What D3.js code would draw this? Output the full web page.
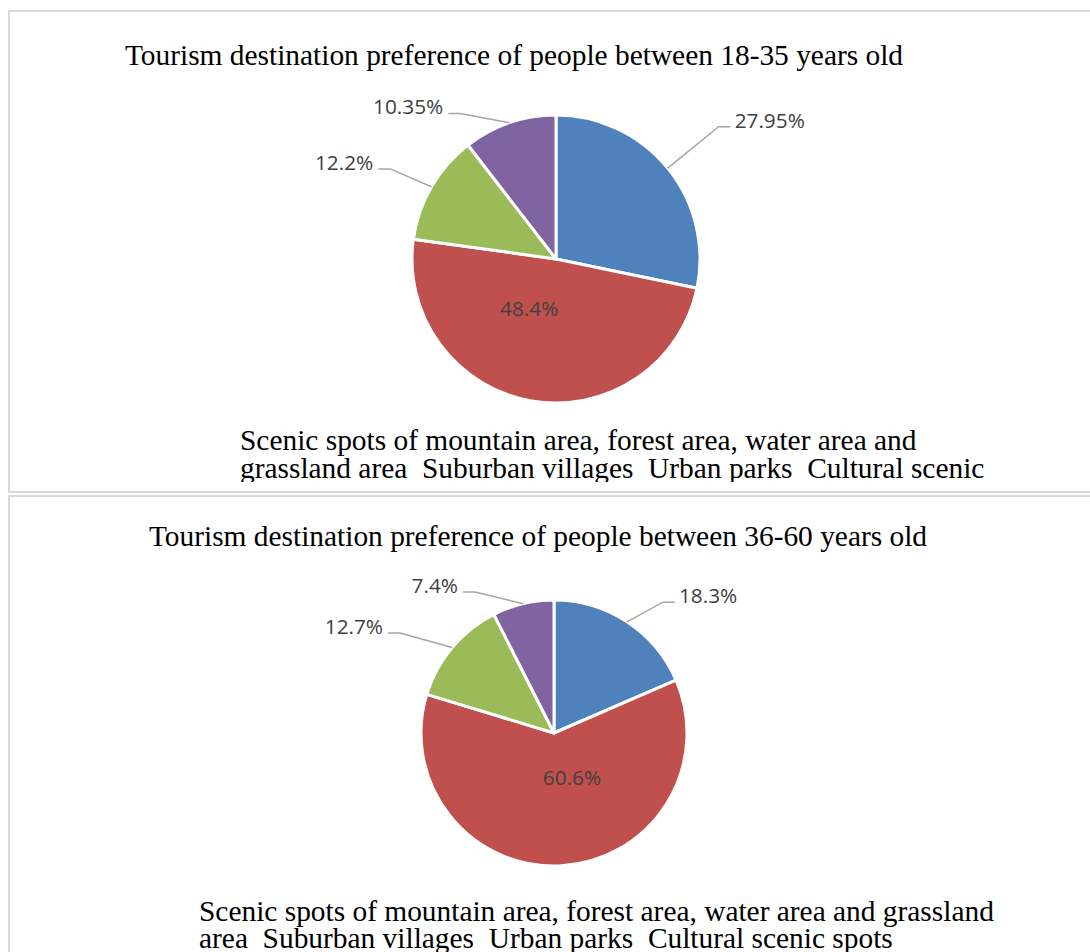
<!DOCTYPE html>
<html>
<head>
<meta charset="utf-8">
<script src="https://cdn.jsdelivr.net/npm/d3@7"></script>
<style>
  html, body { margin: 0; padding: 0; background: #fff; }
  svg { display: block; }
  .title, .legend { font-family: "Liberation Serif", "Times New Roman", serif; fill: #000; white-space: pre; }
  .dlabel { font-family: "Open Sans", sans-serif; fill: #404040; }
</style>
</head>
<body>
<div id="chart"></div>
<script>
// --- data ---
const categories = [
  'Scenic spots of mountain area, forest area, water area and grassland area',
  'Suburban villages',
  'Urban parks',
  'Cultural scenic spots'
];
const youngValues = [27.95, 48.4, 12.2, 10.35];
const olderValues = [18.3, 60.6, 12.7, 7.4];
const chartTitles = [
  'Tourism destination preference of people between 18-35 years old',
  'Tourism destination preference of people between 36-60 years old'
];
// legend text wraps differently in the two boxes
const legendLines = [
  ['Scenic spots of mountain area, forest area, water area and',
   'grassland area  Suburban villages  Urban parks  Cultural scenic'],
  ['Scenic spots of mountain area, forest area, water area and grassland',
   'area  Suburban villages  Urban parks  Cultural scenic spots']
];
const colors = ['#4f81bd', '#c0504d', '#9bbb59', '#8064a2'];

// --- layout (per box) ---
// label: da = angle shift from slice middle (deg), rf = radius factor; inside = no leader
const panels = [
  {
    values: youngValues, title: chartTitles[0], legend: legendLines[0],
    box: { y: 11, h: 481 }, clipBottom: 482,
    cx: 556, cy: 259, r: 144,
    titleX: 514, titleY: 65,
    legendX: 240, legendY: 450, lineH: 28,
    labels: [
      { da: 0, rf: 1.456 },
      { da: 18.6, rf: 0.39, inside: true },
      { da: -1.6, rf: 1.31 },
      { da: -14.5, rf: 1.21 }
    ]
  },
  {
    values: olderValues, title: chartTitles[1], legend: legendLines[1],
    box: { y: 496, h: 520 }, clipBottom: 952,
    cx: 554, cy: 733, r: 133,
    titleX: 538, titleY: 546,
    legendX: 199, legendY: 921, lineH: 27,
    labels: [
      { da: 6.5, rf: 1.28 },
      { da: -18.5, rf: 0.365, inside: true },
      { da: -7, rf: 1.38 },
      { da: -15.8, rf: 1.215 }
    ]
  }
];

const W = 1090, H = 952;
const svg = d3.select('#chart').append('svg')
  .attr('width', W)
  .attr('height', H);

const fmt = v => `${v}%`;
const toRad = d => d * Math.PI / 180;
// angle measured clockwise from 12 o'clock, like d3.pie
const polar = (cx, cy, rad, a) => [cx + rad * Math.sin(a), cy - rad * Math.cos(a)];

panels.forEach((p, pi) => {
  // box border
  svg.append('rect')
    .attr('x', 9)
    .attr('y', p.box.y)
    .attr('width', W + 20)
    .attr('height', p.box.h)
    .attr('fill', '#fff')
    .attr('stroke', '#d9d9d9')
    .attr('stroke-width', 2);

  const clipId = `clip-${pi}`;
  svg.append('clipPath').attr('id', clipId)
    .append('rect')
    .attr('x', 10)
    .attr('y', p.box.y + 1)
    .attr('width', W)
    .attr('height', p.clipBottom - p.box.y - 1);

  const g = svg.append('g').attr('clip-path', `url(#${clipId})`);

  g.append('text')
    .attr('class', 'title')
    .attr('x', p.titleX)
    .attr('y', p.titleY)
    .attr('text-anchor', 'middle')
    .style('font-size', '29.4px')
    .text(p.title);

  const pie = d3.pie().sort(null).value(d => d)(p.values);
  const arc = d3.arc().innerRadius(0).outerRadius(p.r);

  const pg = g.append('g').attr('transform', `translate(${p.cx},${p.cy})`);
  pg.selectAll('path.slice')
    .data(pie)
    .join('path')
    .attr('class', 'slice')
    .attr('d', arc)
    .attr('fill', (d, i) => colors[i])
    .attr('stroke', '#fff')
    .attr('stroke-width', 3)
    .attr('stroke-linejoin', 'round');

  // data labels
  pie.forEach((d, i) => {
    const L = p.labels[i];
    const mid = (d.startAngle + d.endAngle) / 2;
    const a = mid + toRad(L.da);
    if (L.inside) {
      const [lx, ly] = polar(0, 0, p.r * L.rf, a);
      pg.append('text')
        .attr('class', 'dlabel')
        .attr('x', lx)
        .attr('y', ly)
        .attr('text-anchor', 'middle')
        .attr('dy', '0.35em')
        .style('font-size', '20.8px')
        .text(fmt(p.values[i]));
      return;
    }
    const start = polar(0, 0, p.r, mid);
    const elbow = polar(0, 0, p.r * L.rf, a);
    const right = Math.sin(a) >= 0;
    const stubEnd = [elbow[0] + (right ? 12 : -12), elbow[1]];
    pg.append('path')
      .attr('d', d3.line()([start, elbow, stubEnd]))
      .attr('fill', 'none')
      .attr('stroke', '#a6a6a6')
      .attr('stroke-width', 1.5);
    pg.append('text')
      .attr('class', 'dlabel')
      .attr('x', stubEnd[0] + (right ? 4 : -5))
      .attr('y', elbow[1] + 1)
      .attr('text-anchor', right ? 'start' : 'end')
      .style('font-size', '20.8px')
      .text(fmt(p.values[i]));
  });

  // legend (markers are not visible in the source, text only)
  g.selectAll('text.legend')
    .data(p.legend)
    .join('text')
    .attr('class', 'legend')
    .attr('x', p.legendX)
    .attr('y', (d, i) => p.legendY + i * p.lineH)
    .style('font-size', '29.4px')
    .text(d => d);
});
</script>
</body>
</html>
